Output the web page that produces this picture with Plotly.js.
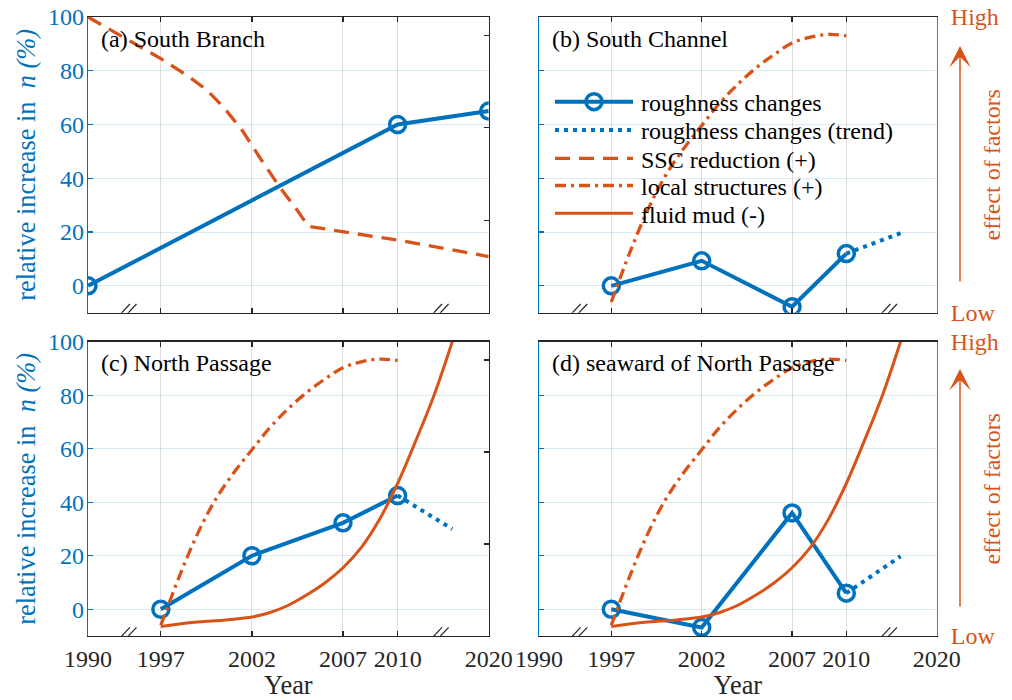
<!DOCTYPE html>
<html><head><meta charset="utf-8">
<script src="https://cdn.plot.ly/plotly-3.0.1.min.js"></script>
<style>html,body{margin:0;padding:0;background:#fff}</style>
</head><body><div id="chart" style="width:1012px;height:700px"></div>
<script>
// ---------------- data ----------------
const tickYears = [1990, 1997, 2002, 2007, 2010, 2020];
const tickPositions = [1993, 1997, 2002, 2007, 2010, 2015]; // compressed (broken) axis ends
const breakYears = [1993.7, 2014.5];

const panelTitles = ['(a) South Branch', '(b) South Channel', '(c) North Passage', '(d) seaward of North Passage'];
const legendNames = ['roughness changes', 'roughness changes (trend)', 'SSC reduction (+)', 'local structures (+)', 'fluid mud (-)'];
const yTitle = 'relative increase in&nbsp; <i>n (%)</i>';
const xTitle = 'Year';
const factorLabels = ['Low', 'High'];
const factorTitle = 'effect of factors';

// roughness changes (relative increase in n, %)
const roughYearsA = [1990, 2010, 2020];
const roughA = [0, 60, 65];
const roughYears = [1997, 2002, 2007, 2010];
const roughB = [0, 9.3, -7.8, 12];
const roughC = [0, 20, 32.3, 42.5];
const roughD = [0, -6.8, 36, 6];

// roughness changes (trend)
const trendYears = [2010, 2016];
const trendB = [12, 19.6];
const trendC = [42.5, 30];
const trendD = [6, 19.8];

// SSC reduction (+), panel (a)
const sscYears = [1990, 1997, 1998.5, 1999.5, 2000.5, 2001.5, 2002.5, 2003.5, 2004.5, 2005.1, 2010, 2020];
const sscVals  = [100, 84.5, 78, 73, 66, 57.5, 47, 37, 28, 22.1, 17, 10.9];

// local structures (+)
const localYears = [1997, 1998, 1999, 2000, 2001, 2002, 2003, 2004, 2005, 2006, 2007, 2008, 2009, 2010];
const localVals  = [-6, 12, 28, 41, 51, 59.6, 68, 75, 81, 86, 90.3, 92.5, 93.5, 93];

// fluid mud (-)
const mudYears = [1997, 1998, 1999, 2000, 2001, 2002, 2003, 2004, 2005, 2006, 2007, 2008, 2009, 2010, 2012, 2014, 2016];
const mudVals  = [-6.5, -5.5, -4.8, -4.3, -3.7, -2.9, -1.2, 1.5, 5.3, 9.8, 15.5, 23, 33.5, 47, 63, 80, 100];

// ---------------- styles ----------------
const BLUE = '#0072BD', ORANGE = '#D95319', DARK = '#262626';
const FONT = '"Liberation Serif", "Times New Roman", serif';
const W = 1012, H = 700;
const px = v => v / W, py = v => 1 - v / H;

// map a real year onto the broken axis
function toAxis(y) {
  for (let i = 0; i < tickYears.length - 1; i++) {
    const a = tickYears[i], b = tickYears[i + 1];
    if (y <= b || i === tickYears.length - 2) {
      return tickPositions[i] + (y - a) * (tickPositions[i + 1] - tickPositions[i]) / (b - a);
    }
  }
}
const mapX = arr => arr.map(toAxis);

const styles = {
  rough: {mode: 'lines+markers', line: {color: BLUE, width: 4},
          marker: {symbol: 'circle-open', size: 16, color: BLUE, line: {width: 3.5, color: BLUE}}},
  trend: {mode: 'lines', line: {color: BLUE, width: 4, dash: '4px,5px'}},
  ssc:   {mode: 'lines', line: {color: ORANGE, width: 3.3, dash: '15px,9px'}},
  local: {mode: 'lines', line: {color: ORANGE, width: 3.3, dash: '11px,5px,3px,5px', shape: 'spline'}},
  mud:   {mode: 'lines', line: {color: ORANGE, width: 3, shape: 'spline'}}
};
function tr(years, vals, sub, style, name) {
  return Object.assign({type: 'scatter', x: mapX(years), y: vals, xaxis: 'x' + sub, yaxis: 'y' + sub,
    name: name, showlegend: false, hoverinfo: 'skip', cliponaxis: true}, JSON.parse(JSON.stringify(styles[style])));
}
// empty carrier traces so the right-hand axes get drawn
function carrier(xa, ya) {
  return {type: 'scatter', x: [], y: [], xaxis: xa, yaxis: ya, showlegend: false, hoverinfo: 'skip'};
}

const data = [
  // (a)
  tr(roughYearsA, roughA, '', 'rough', legendNames[0]),
  tr(sscYears, sscVals, '', 'ssc', legendNames[2]),
  // (b)
  tr(roughYears, roughB, '2', 'rough', legendNames[0]),
  tr(trendYears, trendB, '2', 'trend', legendNames[1]),
  tr(localYears, localVals, '2', 'local', legendNames[3]),
  // (c)
  tr(roughYears, roughC, '3', 'rough', legendNames[0]),
  tr(trendYears, trendC, '3', 'trend', legendNames[1]),
  tr(localYears, localVals, '3', 'local', legendNames[3]),
  tr(mudYears, mudVals, '3', 'mud', legendNames[4]),
  // (d)
  tr(roughYears, roughD, '4', 'rough', legendNames[0]),
  tr(trendYears, trendD, '4', 'trend', legendNames[1]),
  tr(localYears, localVals, '4', 'local', legendNames[3]),
  tr(mudYears, mudVals, '4', 'mud', legendNames[4]),
  carrier('x', 'y5'), carrier('x2', 'y6'), carrier('x3', 'y7'), carrier('x4', 'y8')
];

// ---------------- layout ----------------
const xDomL = [px(88), px(488.7)], xDomR = [px(539), px(936.7)];
const yDomT = [py(312.7), py(17)], yDomB = [py(636), py(341.7)];

function xAxis(domain, anchor, showLabels) {
  return {domain: domain, anchor: anchor, range: [1993, 2015], fixedrange: true,
    tickmode: 'array', tickvals: tickPositions, ticktext: tickYears.map(String),
    ticks: 'inside', ticklen: 5, tickwidth: 1.2, tickcolor: DARK,
    showline: true, linecolor: DARK, linewidth: 1.3, mirror: 'ticks',
    showgrid: true, gridcolor: 'rgba(38,38,38,0.15)', gridwidth: 1, zeroline: false,
    showticklabels: showLabels, ticklabelstandoff: 1,
    tickfont: {family: FONT, size: 24, color: DARK},
    title: showLabels ? {text: xTitle, font: {family: FONT, size: 26.4, color: DARK}, standoff: 10} : undefined};
}
function yAxis(domain, anchor, showLabels) {
  return {domain: domain, anchor: anchor, range: [-10, 100], fixedrange: true,
    tick0: 0, dtick: 20, ticks: 'inside', ticklen: 5, tickwidth: 1.2, tickcolor: BLUE,
    showline: true, linecolor: BLUE, linewidth: 1.3, mirror: false,
    showgrid: true, gridcolor: 'rgba(0,114,189,0.15)', gridwidth: 1, zeroline: false,
    showticklabels: showLabels, ticklabelstandoff: -2,
    tickfont: {family: FONT, size: 24, color: BLUE},
    title: showLabels ? {text: yTitle, font: {family: FONT, size: 26.4, color: BLUE}, standoff: 4} : undefined};
}
function yRightPlain(over, anchor) {
  return {overlaying: over, anchor: anchor, side: 'right', range: [0, 3.2], dtick: 1, tick0: 0, fixedrange: true,
    ticks: 'inside', ticklen: 5, tickwidth: 1.2, tickcolor: DARK, showline: true, linecolor: DARK, linewidth: 1.3,
    showgrid: false, zeroline: false, showticklabels: false};
}
function yRightFactor(over, anchor) {
  return {overlaying: over, anchor: anchor, side: 'right', range: [-10, 100], fixedrange: true,
    tickmode: 'array', tickvals: [-10, 100], ticktext: factorLabels, ticks: '',
    showline: true, linecolor: ORANGE, linewidth: 1.3, showgrid: false, zeroline: false,
    ticklabelstandoff: 8, tickfont: {family: FONT, size: 24, color: ORANGE}};
}

const shapes = [];
const annotations = [];

// axis break marks
[['x', 'y'], ['x2', 'y2'], ['x3', 'y3'], ['x4', 'y4']].forEach(([xr, yr]) => {
  breakYears.forEach(b => {
    [-3.3, 3.3].forEach(dx => {
      shapes.push({type: 'line', xref: xr, yref: yr, xsizemode: 'pixel', ysizemode: 'pixel',
        xanchor: toAxis(b), yanchor: -10, x0: dx - 6.7, x1: dx + 6.7, y0: -5.6, y1: 8.7,
        line: {color: DARK, width: 1.2}, layer: 'above'});
    });
  });
});

// panel titles
[[99, 39], [550, 39], [99, 362.7], [550, 362.7]].forEach(([x, y], i) => {
  annotations.push({xref: 'paper', yref: 'paper', x: px(x), y: py(y), xanchor: 'left', yanchor: 'middle',
    text: panelTitles[i], showarrow: false, font: {family: FONT, size: 24, color: '#000'}});
});

// factor arrows and titles for (b) and (d)
[[46, 283, 165], [369, 608, 489]].forEach(([head, tail, mid]) => {
  annotations.push({xref: 'paper', yref: 'paper', x: px(960), y: py(head), ax: 0, ay: tail - head,
    text: '', showarrow: true, arrowhead: 3, arrowsize: 2.4, arrowwidth: 1.5, arrowcolor: ORANGE});
  annotations.push({xref: 'paper', yref: 'paper', x: px(991.5), y: py(mid), xanchor: 'center', yanchor: 'middle',
    text: factorTitle, textangle: -90, showarrow: false, font: {family: FONT, size: 24, color: ORANGE}});
});

// manual legend inside (b)
const legY = [101.7, 130, 158.3, 185.5, 213.3];
const legStyles = [
  {color: BLUE, width: 4}, {color: BLUE, width: 4, dash: '4px,5px'},
  {color: ORANGE, width: 3.3, dash: '15px,9px'}, {color: ORANGE, width: 3.3, dash: '11px,5px,3px,5px'},
  {color: ORANGE, width: 3}
];
legY.forEach((y, i) => {
  shapes.push({type: 'line', xref: 'paper', yref: 'paper', x0: px(555), x1: px(633), y0: py(y), y1: py(y), line: legStyles[i]});
  annotations.push({xref: 'paper', yref: 'paper', x: px(639), y: py(y + 1.5), xanchor: 'left', yanchor: 'middle',
    text: legendNames[i], showarrow: false, font: {family: FONT, size: 24, color: '#000'}});
});
shapes.push({type: 'circle', xref: 'paper', yref: 'paper', xsizemode: 'pixel', ysizemode: 'pixel',
  xanchor: px(594), yanchor: py(legY[0]), x0: -8, x1: 8, y0: -8, y1: 8, line: {color: BLUE, width: 3.5}});

const layout = {
  width: W, height: H, margin: {l: 0, r: 0, t: 0, b: 0},
  paper_bgcolor: '#fff', plot_bgcolor: '#fff', showlegend: false,
  font: {family: FONT, size: 24, color: DARK},
  xaxis: xAxis(xDomL, 'y', false), yaxis: yAxis(yDomT, 'x', true),
  xaxis2: xAxis(xDomR, 'y2', false), yaxis2: yAxis(yDomT, 'x2', false),
  xaxis3: xAxis(xDomL, 'y3', true), yaxis3: yAxis(yDomB, 'x3', true),
  xaxis4: xAxis(xDomR, 'y4', true), yaxis4: yAxis(yDomB, 'x4', false),
  yaxis5: yRightPlain('y', 'x'), yaxis6: yRightFactor('y2', 'x2'),
  yaxis7: yRightPlain('y3', 'x3'), yaxis8: yRightFactor('y4', 'x4'),
  shapes: shapes, annotations: annotations
};

Plotly.newPlot('chart', data, layout, {displayModeBar: false, staticPlot: true});
</script></body></html>
